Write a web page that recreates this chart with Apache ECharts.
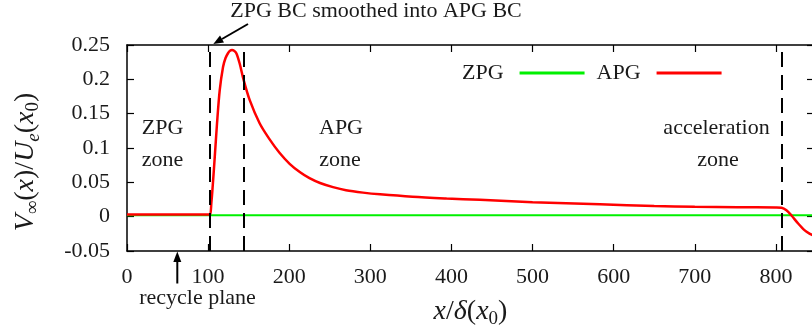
<!DOCTYPE html>
<html>
<head>
<meta charset="utf-8">
<script src="https://cdn.jsdelivr.net/npm/echarts@6/dist/echarts.min.js"></script>
<style>
  html, body { margin: 0; padding: 0; background: #fff; }
  #chart { width: 812px; height: 333px; }
</style>
</head>
<body>
<div id="chart"></div>
<script>
// ZPG inflow condition: flat, near zero
const zpgX = [0, 847];
const zpgY = [0.002, 0.002];

// APG inflow condition
const apgX = [0, 50, 100, 102.5, 104, 105.3, 108.2, 111, 114.3, 118.4, 121.5, 124.5, 127, 129.5, 132, 134.8, 138.9, 143.8,
  151.2, 163.5, 175, 188, 200.5, 213, 225, 238, 254, 270, 291, 312, 352, 394, 435, 500, 583, 650, 700, 753, 800,
  807, 813, 819, 827.5, 835.6, 842, 847];
const apgY = [0.003, 0.003, 0.003, 0.003, 0.02, 0.0386, 0.087, 0.136, 0.184, 0.218, 0.231, 0.238, 0.2415, 0.2426, 0.2415, 0.238, 0.223, 0.199,
  0.170, 0.136, 0.114, 0.093, 0.077, 0.065, 0.056, 0.049, 0.043, 0.0385, 0.035, 0.0325, 0.029, 0.0265, 0.0245, 0.021, 0.018, 0.0155, 0.0145, 0.0138, 0.0135,
  0.013, 0.0093, 0.002, -0.010, -0.020, -0.025, -0.028];

// dashed zone boundaries (x/delta)
const boundaries = [102, 144, 807];

const font = 'Liberation Serif';
const fs = 22;
const ink = '#1a1a1a';

const chart = echarts.init(document.getElementById('chart'));

const axisCommon = {
  type: 'value',
  axisLine: { show: true, onZero: false, lineStyle: { color: '#000', width: 1.5 } },
  axisTick: { show: true, inside: true, length: 7, lineStyle: { color: '#000', width: 1.2 } },
  splitLine: { show: false },
};

const text = (x, y, s) => ({
  type: 'text', x, y, silent: true,
  style: { text: s, font: fs + 'px "' + font + '"', fill: ink, align: 'center', verticalAlign: 'middle' },
});

// math label styles
const mathRich = (key) => ({
  i: { fontFamily: font, fontSize: 28, fontStyle: 'italic', [key]: ink, lineHeight: 34 },
  n: { fontFamily: font, fontSize: 28, [key]: ink, lineHeight: 34 },
  s: { fontFamily: font, fontSize: 19, [key]: ink, verticalAlign: 'bottom', lineHeight: 34 },
  se: { fontFamily: font, fontSize: 19, fontStyle: 'italic', [key]: ink, verticalAlign: 'bottom', lineHeight: 34 },
});

chart.setOption({
  animation: false,
  grid: { left: 127, top: 45, width: 687, height: 206, outerBoundsMode: 'none', containLabel: false },
  legend: {
    data: ['ZPG', 'APG'],
    left: 457, top: 57,
    align: 'right',
    icon: 'rect',
    itemWidth: 65, itemHeight: 3, itemGap: 12,
    textStyle: { fontFamily: font, fontSize: fs, color: ink, padding: [0, 11, 0, 0] },
  },
  xAxis: [
    {
      ...axisCommon,
      min: 0, max: 847, interval: 100,
      axisLabel: {
        margin: 15, fontFamily: font, fontSize: fs, color: ink,
        formatter: (v) => (v % 100 === 0 ? String(v) : ''),
      },
      name: '{i|x}{n|/}{i|δ}{n|(}{i|x}{s|0}{n|)}',
      nameLocation: 'middle', nameGap: 44,
      nameTextStyle: { rich: mathRich('color') },
    },
    {
      ...axisCommon,
      position: 'top',
      min: 0, max: 847, interval: 100,
      axisLabel: { show: false },
    },
  ],
  yAxis: [
    {
      ...axisCommon,
      min: -0.05, max: 0.25, interval: 0.05,
      axisLabel: { margin: 17, fontFamily: font, fontSize: fs, color: ink },
    },
    {
      ...axisCommon,
      position: 'right',
      min: -0.05, max: 0.25, interval: 0.05,
      axisLabel: { show: false },
    },
  ],
  series: [
    {
      name: 'ZPG', type: 'line',
      data: zpgX.map((x, i) => [x, zpgY[i]]),
      symbol: 'none', showSymbol: false,
      itemStyle: { color: '#00f000' },
      lineStyle: { color: '#00f000', width: 2 },
    },
    {
      name: 'APG', type: 'line',
      data: apgX.map((x, i) => [x, apgY[i]]),
      symbol: 'none', showSymbol: false, smooth: 0.3,
      itemStyle: { color: '#ff0000' },
      lineStyle: { color: '#ff0000', width: 2.5 },
      markLine: {
        silent: true, symbol: ['none', 'none'],
        label: { show: false },
        lineStyle: { color: '#000', width: 2, type: [15, 8] },
        data: boundaries.map((b) => ({ xAxis: b })),
      },
    },
  ],
  graphic: [
    text(376, 11, 'ZPG BC smoothed into APG BC'),
    { type: 'line', silent: true, shape: { x1: 248, y1: 24, x2: 222, y2: 39 }, style: { stroke: '#000', lineWidth: 2 } },
    { type: 'polygon', silent: true, shape: { points: [[213.3, 44], [224, 42.5], [220, 35.5]] }, style: { fill: '#000' } },
    { type: 'line', silent: true, shape: { x1: 177.3, y1: 283.5, x2: 177.3, y2: 261 }, style: { stroke: '#000', lineWidth: 2 } },
    { type: 'polygon', silent: true, shape: { points: [[177.3, 251.5], [173.3, 262], [181.3, 262]] }, style: { fill: '#000' } },
    text(197.5, 298, 'recycle plane'),
    text(162.5, 128.5, 'ZPG'),
    text(162.5, 160.5, 'zone'),
    text(341, 128.5, 'APG'),
    text(340, 160.5, 'zone'),
    text(716.5, 128.5, 'acceleration'),
    text(718, 160.5, 'zone'),
    {
      type: 'text', x: 26, y: 162, rotation: Math.PI / 2, silent: true,
      style: {
        text: '{i|V}{s|∞}{n|(}{i|x}{n|)/}{i|U}{se|e}{n|(}{i|x}{s|0}{n|)}',
        align: 'center', verticalAlign: 'middle',
        rich: mathRich('fill'),
      },
    },
  ],
});
</script>
</body>
</html>
